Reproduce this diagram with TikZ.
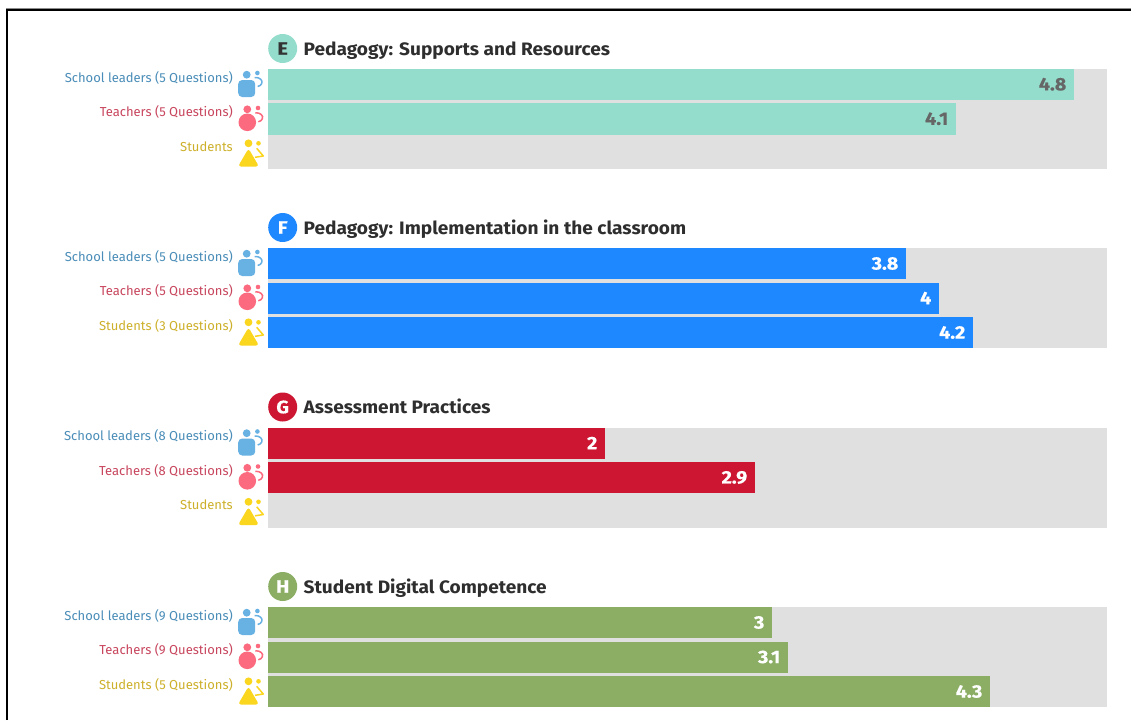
\documentclass[tikz,border=0pt]{standalone}
\usepackage{fontspec}
\setmainfont{Fira Sans}
\newfontfamily\strongfont[BoldFeatures={FakeStretch=1.06}]{Fira Sans}
\newfontfamily\valfont[BoldFeatures={FakeStretch=1.1,FakeBold=0.5}]{Fira Sans}
\definecolor{tealc}{HTML}{94DDCC}
\definecolor{bluec}{HTML}{1D88FF}
\definecolor{redc}{HTML}{CD1632}
\definecolor{greenc}{HTML}{8BAE64}
\definecolor{greyc}{HTML}{E0E0E0}
\definecolor{leadtxt}{HTML}{4A8DB8}
\definecolor{teachtxt}{HTML}{C8465E}
\definecolor{studtxt}{HTML}{CDB02A}
\definecolor{leadic}{HTML}{68B1E3}
\definecolor{teachic}{HTML}{FB6A7E}
\definecolor{studic}{HTML}{FBD61E}
\tikzset{
 x=1pt,y=-1pt,
 trackbar/.style={fill=greyc,draw=none,inner sep=0,outer sep=0,minimum width=839pt,anchor=north west},
 rolelabel/.style={anchor=base east,inner sep=0,font=\fontsize{13}{14}\selectfont},
 valuelabel/.style={anchor=east,inner sep=0,font=\valfont\fontsize{18}{20}\selectfont\bfseries,text=#1},
 titlelabel/.style={anchor=base west,inner sep=0,font=\strongfont\fontsize{18}{20}\selectfont\bfseries,text=black!82},
 letterdisc/.style={circle,inner sep=0,minimum size=29pt,fill=#1,font=\valfont\fontsize{18}{20}\selectfont\bfseries},
 frameline/.style={line width=2pt,black},
 pics/leader/.style={code={
   \fill[leadic] (0,-13.8) circle (3.9);
   \fill[leadic,rounded corners=4pt] (-8.5,-8.5) rectangle (8.5,8.5);
   \fill[leadic] (10.7,-15.5) circle (2.3);
   \draw[leadic,line width=1.5pt] (8,-11) .. controls (13,-11.5) and (16.5,-8) .. (15,-5) .. controls (14.5,-3.5) and (13,-2.5) .. (11,-2);
 }},
 pics/teacher/.style={code={
   \fill[teachic] (0,-13) circle (3.9);
   \fill[teachic] (0,0) circle (8.8);
   \fill[teachic] (10.7,-14.3) circle (2.3);
   \draw[teachic,line width=1.5pt] (8,-9.5) .. controls (13,-10) and (16.5,-6.5) .. (15,-3.5) .. controls (14.5,-2) and (13,-1) .. (11,-0.5);
 }},
 pics/student/.style={code={
   \fill[studic] (0,-14.7) circle (3.9);
   \fill[studic,rounded corners=3pt] (0,-9.5) -- (10.5,8.5) -- (-10.5,8.5) -- cycle;
   \fill[studic] (10,-14.7) circle (2.3);
   \draw[studic,line width=1.5pt,line join=round] (8.2,-9.7) -- (14.8,-2) -- (6.5,-0.7);
 }},
}
\newcommand{\panelhead}[9]{%
 \node[trackbar,minimum height=100pt] (#1track) at (268,#2) {};
 \node[letterdisc=#3,text=#5] (#1disc) at (282.7,#2-20.5) {#4};
 \node[titlelabel] (#1title) at (303.5,#2-13.6) {#6};
 \node[rolelabel,text=leadtxt] (#1lead) at (233,#2+13) {#7};
 \node[rolelabel,text=teachtxt] (#1teach) at (233,#2+47.7) {#8};
 \node[rolelabel,text=studtxt] (#1stud) at (233,#2+82.4) {#9};
 \pic at (246.7,#2+19.5) {leader};
 \pic at (247.3,#2+53.3) {teacher};
 \pic at (248.5,#2+89) {student};
}
\newcommand{\valuebar}[7]{%
 \fill[#2] (268,#3) rectangle (#5,#4);
 \node[valuelabel=#7] (#1) at (#5-7.5,{(#3+#4)/2}) {#6};
}
\begin{document}
\begin{tikzpicture}
\useasboundingbox (0,0) rectangle (1131,720);
\fill[white] (0,0) rectangle (1131,720);
\coordinate (ftl) at (7,9.7);
\coordinate (ftr) at (1131,9.7);
\coordinate (fbl) at (7,720);
\coordinate (gtl) at (6,8.2);
\coordinate (gtr) at (1131,8.2);
\draw[black!45,line width=0.8pt] (gtl) -- (gtr);
\draw[frameline,line cap=butt] (fbl) -- (ftl) -- (ftr);
% E
\panelhead{e}{69}{tealc}{E}{black!80}{Pedagogy: Supports and Resources}{School leaders (5 Questions)}{Teachers (5 Questions)}{Students}
\valuebar{e1}{tealc}{69}{99.5}{1074}{4.8}{black!60}
\valuebar{e2}{tealc}{103}{134.5}{956}{4.1}{black!60}
% F
\panelhead{f}{248}{bluec}{F}{white}{Pedagogy: Implementation in the classroom}{School leaders (5 Questions)}{Teachers (5 Questions)}{Students (3 Questions)}
\valuebar{f1}{bluec}{248}{279}{906}{3.8}{white}
\valuebar{f2}{bluec}{282.5}{313.5}{939}{4}{white}
\valuebar{f3}{bluec}{317}{348}{973}{4.2}{white}
% G
\panelhead{g}{427.5}{redc}{G}{white}{Assessment Practices}{School leaders (8 Questions)}{Teachers (8 Questions)}{Students}
\valuebar{g1}{redc}{427.5}{458.5}{605}{2}{white}
\valuebar{g2}{redc}{462}{493}{755}{2.9}{white}
% H
\panelhead{h}{607}{greenc}{H}{white}{Student Digital Competence}{School leaders (9 Questions)}{Teachers (9 Questions)}{Students (5 Questions)}
\valuebar{h1}{greenc}{607}{638}{772}{3}{white}
\valuebar{h2}{greenc}{641.5}{672.5}{788}{3.1}{white}
\valuebar{h3}{greenc}{676}{707}{990}{4.3}{white}
\end{tikzpicture}
\end{document}
